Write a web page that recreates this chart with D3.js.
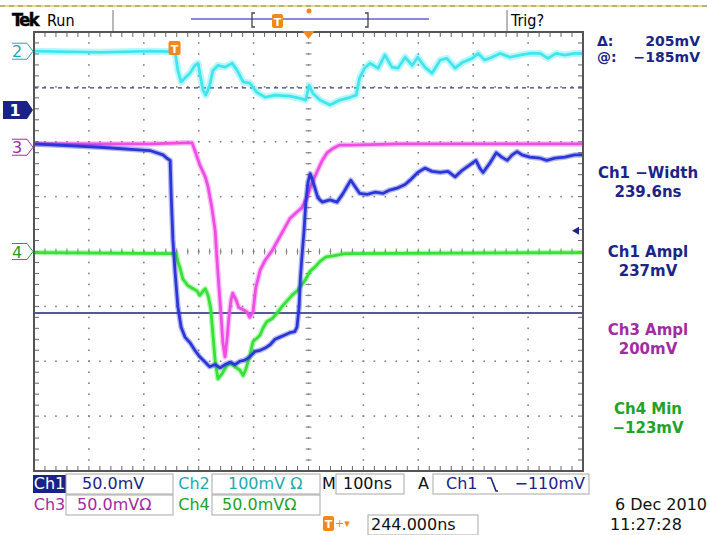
<!DOCTYPE html>
<html>
<head>
<meta charset="utf-8">
<script src="https://cdn.jsdelivr.net/npm/d3@7"></script>
<style>
  body { margin: 0; background: #fff; }
  svg { display: block; }
  text { font-family: "DejaVu Sans", sans-serif; }
</style>
</head>
<body>
<svg id="scope" width="707" height="535"></svg>
<script>
// ---- waveform data: [time ns (0 = screen centre), level mV] ----
var ch1Trace = [[-500,-31],[-380,-34],[-289,-37],[-265,-41],[-258,-44],[-252,-46],[-250,-79],[-247,-118],[-243,-148],[-238,-179],[-232,-198],[-225,-207],[-216,-212],[-207,-219],[-198,-225],[-188,-230],[-180,-234],[-170,-232],[-161,-235],[-152,-232],[-143,-230],[-134,-232],[-125,-229],[-116,-228],[-107,-225],[-97,-220],[-88,-219],[-79,-217],[-70,-214],[-61,-209],[-52,-207],[-43,-205],[-34,-203],[-25,-202],[-21,-198],[-17,-179],[-15,-155],[-12,-134],[-8,-109],[-5,-85],[-1,-66],[3,-58],[8,-65],[17,-80],[25,-84],[39,-82],[52,-84],[63,-76],[70,-70],[77,-64],[85,-70],[93,-76],[107,-77],[121,-75],[136,-76],[148,-73],[163,-71],[176,-68],[185,-64],[199,-57],[212,-53],[225,-56],[240,-57],[254,-56],[267,-61],[280,-55],[294,-50],[305,-46],[312,-53],[318,-57],[331,-48],[342,-39],[352,-43],[362,-46],[371,-41],[380,-38],[389,-41],[403,-43],[422,-44],[434,-46],[449,-44],[467,-43],[485,-41],[500,-41]];

var ch2Trace = [[-500,0],[-380,-2],[-289,0],[-243,-1],[-238,-35],[-232,-56],[-225,-49],[-216,-40],[-207,-26],[-201,-22],[-198,-40],[-192,-71],[-187,-80],[-180,-62],[-174,-35],[-165,-26],[-152,-29],[-139,-22],[-130,-35],[-119,-56],[-107,-58],[-94,-75],[-79,-84],[-61,-80],[-34,-82],[-15,-86],[-5,-89],[1,-62],[8,-77],[21,-89],[39,-98],[57,-89],[76,-84],[87,-80],[93,-49],[102,-31],[112,-22],[127,-31],[139,-7],[152,-29],[163,-31],[176,-11],[189,-26],[199,-11],[212,-29],[225,-40],[240,-16],[252,-13],[267,-31],[281,-20],[298,-13],[309,-4],[321,-16],[334,-11],[349,-4],[367,-11],[385,-7],[403,-4],[422,-4],[436,-13],[451,-4],[467,-7],[485,-4],[500,-4]];

var ch3Trace = [[-500,3],[-289,3],[-225,4],[-212,4],[-207,-3],[-198,-16],[-188,-27],[-183,-36],[-176,-55],[-170,-76],[-167,-100],[-163,-128],[-159,-155],[-156,-178],[-152,-191],[-148,-173],[-145,-155],[-141,-139],[-138,-133],[-132,-139],[-127,-146],[-119,-148],[-112,-150],[-107,-155],[-101,-150],[-96,-128],[-88,-112],[-79,-103],[-66,-94],[-56,-85],[-46,-76],[-34,-65],[-21,-59],[-12,-55],[-3,-46],[6,-33],[15,-23],[25,-12],[34,-5],[45,-1],[57,2],[76,2],[167,3],[500,3]];

var ch4Trace = [[-500,-1],[-241,-2],[-238,-9],[-234,-15],[-229,-25],[-220,-31],[-210,-34],[-203,-36],[-198,-40],[-192,-36],[-188,-34],[-183,-40],[-178,-52],[-174,-76],[-170,-100],[-165,-116],[-157,-111],[-150,-105],[-143,-102],[-134,-105],[-125,-108],[-119,-113],[-114,-107],[-107,-95],[-101,-82],[-94,-79],[-88,-76],[-83,-70],[-76,-64],[-66,-61],[-57,-56],[-48,-50],[-39,-45],[-30,-40],[-21,-36],[-15,-32],[-6,-26],[3,-18],[12,-14],[21,-9],[32,-5],[45,-4],[66,-2],[500,-1]];

// ---- scope settings ----
var channelNames = ["1", "2", "3", "4"];
var voltsPerDiv = [50, 100, 50, 50];          // mV / div
var groundDiv = [2.58, 3.65, 1.9, 0];         // channel offset, divisions above centre
var cursorLevels = [20, -185];                // ch1 cursors, mV
var triggerLevel = -110;                      // ch1, mV
var triggerTime = -244;                       // ns

// ---- readouts ----
var cursorLabels = ["\u0394:", "@:"];
var cursorValues = ["205mV", "\u2212185mV"];
var measureTitles = ["Ch1 \u2212Width", "Ch1 Ampl", "Ch3 Ampl", "Ch4 Min"];
var measureValues = ["239.6ns", "237mV", "200mV", "\u2212123mV"];
var measureChannel = [0, 0, 2, 3];

var traceColors = ["#2c36d8", "#40e6ee", "#ee4ee6", "#36e236"];
var textColors = ["#1c2488", "#1fa9b0", "#a02ca2", "#22a228"];
var orange = "#f0881e";

var svg = d3.select("#scope");

var pLeft = 34, pRight = 583, pTop = 32, pBottom = 471;
var x = d3.scaleLinear().domain([-500, 500]).range([pLeft, pRight]);
var xDiv = d3.scaleLinear().domain([-5, 5]).range([pLeft, pRight]);
var yDiv = d3.scaleLinear().domain([-4, 4]).range([pBottom, pTop]);

function chY(c) {
    return function(v) { return yDiv(groundDiv[c] + v / voltsPerDiv[c]); };
}

// ---- top status line ----
svg.append("line").attr("x1", 0).attr("x2", 707).attr("y1", 6).attr("y2", 6)
  .attr("stroke", "#e8dc80").attr("stroke-width", 2);
svg.append("line").attr("x1", 0).attr("x2", 707).attr("y1", 6).attr("y2", 6)
  .attr("stroke", "#8a8a70").attr("stroke-width", 1).attr("stroke-dasharray", "5,4");

svg.append("text").attr("x", 12).attr("y", 26)
  .style("font-family", "'DejaVu Sans Condensed', 'DejaVu Sans'")
  .style("font-weight", "bold").style("font-size", "18px").style("letter-spacing", "-1.5px")
  .attr("stroke", "#000").attr("stroke-width", 0.5)
  .text("Tek");
svg.append("text").attr("x", 47).attr("y", 26)
  .style("font-family", "'DejaVu Sans Condensed', 'DejaVu Sans'")
  .style("font-size", "16px").text("Run");
svg.append("text").attr("x", 511).attr("y", 26)
  .style("font-family", "'DejaVu Sans Condensed', 'DejaVu Sans'")
  .style("font-size", "16px").text("Trig?");

[113, 507].forEach(function(px) {
    svg.append("line").attr("x1", px).attr("x2", px).attr("y1", 10).attr("y2", 31)
      .attr("stroke", "#888").attr("stroke-width", 1.2);
});
svg.append("line").attr("x1", 191).attr("x2", 429).attr("y1", 19).attr("y2", 19)
  .attr("stroke", "#8a8ad8").attr("stroke-width", 2);
svg.append("path").attr("d", "M255,13 L252,13 L252,27 L255,27 M365,13 L368,13 L368,27 L365,27")
  .attr("fill", "none").attr("stroke", "#444").attr("stroke-width", 1.3);
svg.append("rect").attr("x", 272).attr("y", 14).attr("width", 11).attr("height", 14).attr("rx", 2)
  .attr("fill", orange);
svg.append("text").attr("x", 277.5).attr("y", 26).attr("text-anchor", "middle")
  .style("font-size", "11px").style("font-weight", "bold").attr("fill", "#fff").text("T");
svg.append("circle").attr("cx", 309).attr("cy", 11).attr("r", 2.5).attr("fill", orange);

// ---- graticule ----
var g = svg.append("g");
var minor = d3.range(-4, 4.001, 0.2);
var minorX = d3.range(-5, 5.001, 0.2);

d3.range(-4, 5).forEach(function(i) {
    g.selectAll(null).data(minor).enter().append("rect")
      .attr("x", xDiv(i) - 0.8).attr("y", function(d) { return yDiv(d) - 0.8; })
      .attr("width", 1.6).attr("height", 1.6).attr("fill", "#808080");
});
d3.range(-3, 4).forEach(function(j) {
    g.selectAll(null).data(minorX).enter().append("rect")
      .attr("x", function(d) { return xDiv(d) - 0.8; }).attr("y", yDiv(j) - 0.8)
      .attr("width", 1.6).attr("height", 1.6).attr("fill", "#808080");
});
// centre cross ticks
g.selectAll(null).data(minor).enter().append("line")
  .attr("x1", xDiv(0) - 3).attr("x2", xDiv(0) + 3)
  .attr("y1", function(d) { return yDiv(d); }).attr("y2", function(d) { return yDiv(d); })
  .attr("stroke", "#808080").attr("stroke-width", 1);
g.selectAll(null).data(minorX).enter().append("line")
  .attr("y1", yDiv(0) - 3).attr("y2", yDiv(0) + 3)
  .attr("x1", function(d) { return xDiv(d); }).attr("x2", function(d) { return xDiv(d); })
  .attr("stroke", "#808080").attr("stroke-width", 1);
// edge ticks
g.selectAll(null).data(minorX).enter().append("path")
  .attr("d", function(d) {
      var px = xDiv(d);
      return "M" + px + "," + pTop + "v5M" + px + "," + pBottom + "v-5";
  })
  .attr("stroke", "#666").attr("stroke-width", 1);
g.selectAll(null).data(minor).enter().append("path")
  .attr("d", function(d) {
      var py = yDiv(d);
      return "M" + pLeft + "," + py + "h5M" + pRight + "," + py + "h-5";
  })
  .attr("stroke", "#666").attr("stroke-width", 1);

// ---- cursors ----
var y1 = chY(0);
svg.append("line").attr("x1", pLeft).attr("x2", pRight)
  .attr("y1", y1(cursorLevels[0])).attr("y2", y1(cursorLevels[0]))
  .attr("stroke", "#3a3a96").attr("stroke-width", 1.3).attr("stroke-dasharray", "4,4");
svg.append("line").attr("x1", pLeft).attr("x2", pRight)
  .attr("y1", y1(cursorLevels[1])).attr("y2", y1(cursorLevels[1]))
  .attr("stroke", "#1c2270").attr("stroke-width", 1.5);

// ---- traces ----
svg.append("clipPath").attr("id", "plot").append("rect")
  .attr("x", pLeft).attr("y", pTop).attr("width", pRight - pLeft).attr("height", pBottom - pTop);
var traces = svg.append("g").attr("clip-path", "url(#plot)");
var allTraces = [ch1Trace, ch2Trace, ch3Trace, ch4Trace];
[1, 2, 3, 0].forEach(function(c) {
    var line = d3.line()
      .x(function(d) { return x(d[0]); })
      .y(function(d) { return chY(c)(d[1]); });
    traces.append("path").attr("d", line(allTraces[c]))
      .attr("fill", "none").attr("stroke", traceColors[c])
      .attr("stroke-width", c == 1 ? 7 : 5.5).attr("stroke-opacity", 0.35)
      .attr("stroke-linejoin", "round");
    traces.append("path").attr("d", line(allTraces[c]))
      .attr("fill", "none").attr("stroke", traceColors[c])
      .attr("stroke-width", 2.8).attr("stroke-linejoin", "round");
});

// frame
svg.append("rect").attr("x", pLeft).attr("y", pTop)
  .attr("width", pRight - pLeft).attr("height", pBottom - pTop)
  .attr("fill", "none").attr("stroke", "#555").attr("stroke-width", 2);

// trigger markers
svg.append("path")
  .attr("d", "M" + (xDiv(0) - 6) + "," + (pTop - 1) + "l12,0l-6,8z").attr("fill", orange);
var tx = x(triggerTime);
svg.append("rect").attr("x", tx - 6).attr("y", 41).attr("width", 12).attr("height", 14).attr("rx", 2)
  .attr("fill", orange);
svg.append("text").attr("x", tx).attr("y", 52.5).attr("text-anchor", "middle")
  .style("font-size", "11px").style("font-weight", "bold").attr("fill", "#fff").text("T");
var ty = y1(triggerLevel);
svg.append("path").attr("d", "M" + (pRight - 11) + "," + ty + "l7,-4l0,8z").attr("fill", "#1c2488");

// channel markers
var markerY = groundDiv.map(function(d) { return yDiv(d); });
channelNames.forEach(function(name, c) {
    var my = markerY[c];
    if (c == 0) {
        svg.append("path").attr("d", "M3," + (my - 9) + "h24l6,9l-6,9h-24z").attr("fill", "#1a2288");
        svg.append("text").attr("x", 15).attr("y", my + 6).attr("text-anchor", "middle")
          .style("font-size", "16px").style("font-weight", "bold").attr("fill", "#fff").text(name);
    } else {
        svg.append("path").attr("d", "M12," + (my - 8) + "h15l6,8l-6,8h-15")
          .attr("fill", "none").attr("stroke", textColors[c]).attr("stroke-width", 1);
        svg.append("text").attr("x", 17).attr("y", my + 6).attr("text-anchor", "middle")
          .style("font-size", "16px").attr("fill", textColors[c]).text(name);
    }
});

// ---- right readouts ----
cursorLabels.forEach(function(lbl, i) {
    var yy = 46 + i * 16;
    svg.append("text").attr("x", 597).attr("y", yy)
      .style("font-size", "14px").style("font-weight", "bold").attr("fill", textColors[0]).text(lbl);
    svg.append("text").attr("x", 700).attr("y", yy).attr("text-anchor", "end")
      .style("font-size", "14px").style("font-weight", "bold").attr("fill", textColors[0]).text(cursorValues[i]);
});
measureTitles.forEach(function(t, i) {
    var yy = 178 + i * 78.5;
    var col = textColors[measureChannel[i]];
    svg.append("text").attr("x", 648).attr("y", yy).attr("text-anchor", "middle")
      .style("font-size", "15px").style("font-weight", "bold").attr("fill", col).text(t);
    svg.append("text").attr("x", 648).attr("y", yy + 19).attr("text-anchor", "middle")
      .style("font-size", "15px").style("font-weight", "bold").attr("fill", col).text(measureValues[i]);
});

// ---- bottom settings bar ----
function box(x0, y0, w, h) {
    svg.append("rect").attr("x", x0).attr("y", y0).attr("width", w).attr("height", h)
      .attr("fill", "none").attr("stroke", "#a8a8a8").attr("stroke-width", 1);
}
function label(px, py, txt, col, anchor) {
    return svg.append("text").attr("x", px).attr("y", py).attr("text-anchor", anchor || "start")
      .style("font-size", "16px").attr("fill", col).text(txt);
}
var r1 = 489, r2 = 510, r3 = 530;
svg.append("rect").attr("x", 33).attr("y", 475).attr("width", 33).attr("height", 18).attr("fill", "#1a2288");
label(49.5, r1, "Ch1", "#fff", "middle");
box(66, 474, 107, 20); label(82, r1, "50.0mV", textColors[0]);
label(194, r1, "Ch2", textColors[1], "middle");
box(212, 474, 108, 20); label(228, r1, "100mV \u03a9", textColors[1]);
label(322, r1, "M", "#111");
box(336, 474, 68, 20); label(343, r1, "100ns", "#111");
label(418, r1, "A", "#111");
box(433, 474, 156, 20); label(446, r1, "Ch1", textColors[0]);
svg.append("path").attr("d", "M487,478 h4 l5,13 h2").attr("fill", "none")
  .attr("stroke", textColors[0]).attr("stroke-width", 1.6);
label(585, r1, "\u2212110mV", textColors[0], "end");

label(49.5, r2, "Ch3", textColors[2], "middle");
box(66, 495, 107, 20); label(77, r2, "50.0mV\u03a9", textColors[2]);
label(194, r2, "Ch4", textColors[3], "middle");
box(212, 495, 108, 20); label(222, r2, "50.0mV\u03a9", textColors[3]);

svg.append("rect").attr("x", 323).attr("y", 516).attr("width", 11).attr("height", 15).attr("rx", 2).attr("fill", orange);
svg.append("text").attr("x", 328.5).attr("y", 528).attr("text-anchor", "middle")
  .style("font-size", "11px").style("font-weight", "bold").attr("fill", "#fff").text("T");
svg.append("text").attr("x", 335).attr("y", 527).style("font-size", "11px").attr("fill", orange).text("+\u25be");
box(368, 515, 110, 20); label(371, r3, "244.000ns", "#111");

label(707, r2, "6 Dec  2010", "#111", "end");
label(610, r3, "11:27:28", "#111");
</script>
</body>
</html>
